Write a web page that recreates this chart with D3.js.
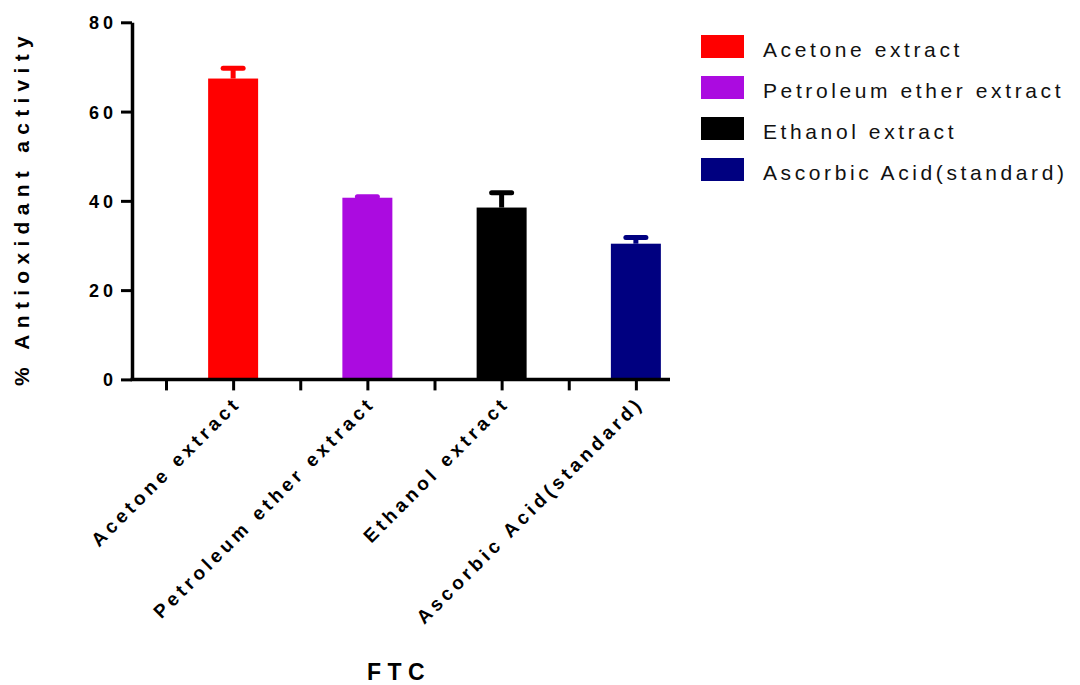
<!DOCTYPE html>
<html>
<head>
<meta charset="utf-8">
<script src="https://cdn.jsdelivr.net/npm/d3@7/dist/d3.min.js"></script>
<style>
  html, body { margin: 0; padding: 0; background: #fff; }
  svg { display: block; font-family: "Liberation Sans", Arial, Helvetica, sans-serif; }
</style>
</head>
<body>
<svg id="chart" width="1080" height="685"></svg>
<script>
// Antioxidant activity (FTC assay) of the extracts, mean with SD above
const categories = ["Acetone extract", "Petroleum ether extract", "Ethanol extract", "Ascorbic Acid(standard)"];
const means = [67.4, 40.7, 38.5, 30.4];
const sds = [2.3, 0.2, 3.3, 1.4];
const colors = ["#FF0000", "#AB0BE0", "#000000", "#000080"];
const yTicks = [0, 20, 40, 60, 80];

const svg = d3.select("#chart");

// plot frame
const yTop = 22.3, yBottom = 379.4;
const axisLeftX = 132, axisRightX = 670;

const y = d3.scaleLinear().domain([0, 80]).range([yBottom, yTop]);
const x = d3.scaleBand().domain(categories).range([166, 703])
  .paddingInner(0.6276).paddingOuter(0.3138);
// positional scale for the x-axis tick marks (category centres and midpoints between them)
const xi = d3.scaleLinear().domain([-0.5, 3.5]).range([166, 703]);

const data = categories.map((c, i) => ({ c, mean: means[i], sd: sds[i], color: colors[i] }));

// bars
svg.append("g").selectAll("rect").data(data).join("rect")
  .attr("x", d => x(d.c))
  .attr("y", d => y(d.mean))
  .attr("width", x.bandwidth())
  .attr("height", d => y(0) - y(d.mean))
  .attr("fill", d => d.color);

// error bars (upper side only)
const eb = svg.append("g").selectAll("g").data(data).join("g")
  .attr("stroke", d => d.color);
eb.append("line")
  .attr("x1", d => x(d.c) + x.bandwidth() / 2)
  .attr("x2", d => x(d.c) + x.bandwidth() / 2)
  .attr("y1", d => y(d.mean))
  .attr("y2", d => y(d.mean + d.sd))
  .attr("stroke-width", 5);
eb.append("line")
  .attr("x1", d => x(d.c) + x.bandwidth() / 2 - 10)
  .attr("x2", d => x(d.c) + x.bandwidth() / 2 + 10)
  .attr("y1", d => y(d.mean + d.sd))
  .attr("y2", d => y(d.mean + d.sd))
  .attr("stroke-width", 5)
  .attr("stroke-linecap", "round");

// y axis
const yAxis = svg.append("g")
  .attr("transform", `translate(${axisLeftX},0)`)
  .call(d3.axisLeft(y).tickValues(yTicks).tickSize(11).tickSizeOuter(0).tickPadding(4));
yAxis.select(".domain").attr("stroke", "#000").attr("stroke-width", 3.5);
yAxis.selectAll(".tick line").attr("stroke", "#000").attr("stroke-width", 3);
yAxis.selectAll(".tick text")
  .attr("fill", "#000")
  .style("font-family", "'Liberation Sans', Arial, sans-serif")
  .style("font-size", "18px").style("font-weight", "bold")
  .style("letter-spacing", "4px")
  .attr("dy", "0.36em");

// x axis
const xAxis = svg.append("g")
  .attr("transform", `translate(0,${yBottom})`)
  .call(d3.axisBottom(xi).tickValues([-0.5, 0, 0.5, 1, 1.5, 2, 2.5, 3]).tickSize(11).tickFormat(""));
xAxis.select(".domain").remove();
xAxis.selectAll(".tick line").attr("stroke", "#000").attr("stroke-width", 3);
xAxis.append("line")
  .attr("x1", axisLeftX - 1.5).attr("x2", axisRightX)
  .attr("y1", 0).attr("y2", 0)
  .attr("stroke", "#000").attr("stroke-width", 3.5);

// rotated category labels
svg.append("g").selectAll("text").data(categories).join("text")
  .attr("transform", d => `translate(${x(d) + x.bandwidth() / 2 + 9},${yBottom + 25}) rotate(-45)`)
  .attr("text-anchor", "end")
  .style("font-size", "19px").style("font-weight", "bold")
  .style("letter-spacing", "4px")
  .text(d => d);

// axis titles
svg.append("text")
  .attr("transform", `translate(29,208) rotate(-90)`)
  .attr("text-anchor", "middle")
  .style("font-size", "21px").style("font-weight", "bold")
  .style("letter-spacing", "6.3px")
  .text("% Antioxidant activity");

svg.append("text")
  .attr("x", 399).attr("y", 680)
  .attr("text-anchor", "middle")
  .style("font-size", "23px").style("font-weight", "bold")
  .style("letter-spacing", "6.5px")
  .text("FTC");

// legend
const legend = svg.append("g").selectAll("g").data(data).join("g")
  .attr("transform", (d, i) => `translate(701,${35 + i * 41})`);
legend.append("rect")
  .attr("width", 43).attr("height", 23)
  .attr("fill", d => d.color);
legend.append("text")
  .attr("x", 62).attr("y", 21.5)
  .attr("fill", "#111")
  .style("font-size", "21px")
  .style("letter-spacing", "3.6px")
  .text(d => d.c);
</script>
</body>
</html>
